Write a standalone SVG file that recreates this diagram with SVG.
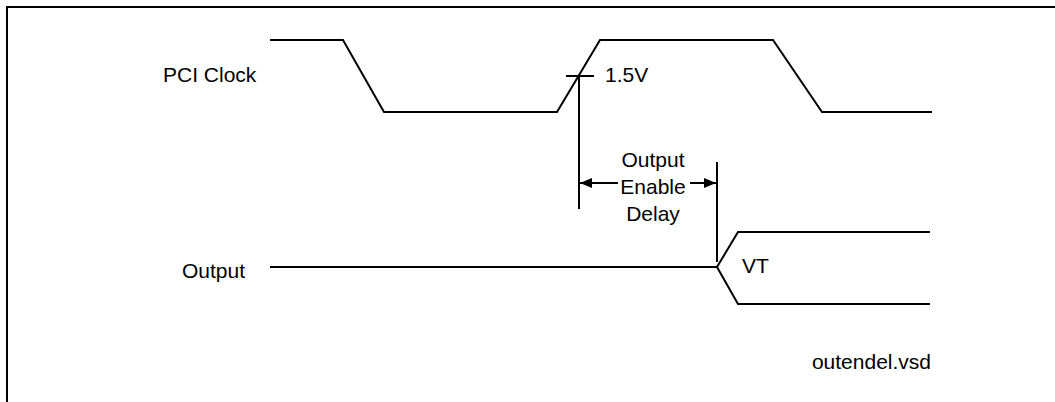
<svg xmlns="http://www.w3.org/2000/svg" width="1055" height="402" viewBox="0 0 1055 402">
<style>
.w{fill:none;stroke:#000;stroke-width:2;stroke-linejoin:miter}
.t{font-family:"Liberation Sans",Arial,sans-serif;font-size:21px;fill:#000}
</style>
<defs>
<marker id="ah" markerWidth="12" markerHeight="10" refX="12" refY="5" orient="auto" markerUnits="userSpaceOnUse">
<path d="M0,0 L12,5 L0,10 Z" fill="#000"/>
</marker>
</defs>
<rect width="1055" height="402" fill="#fff"/>
<path class="w" d="M7,402 V7 H1055" stroke-width="2.5"/>
<g id="pci-clock">
<path class="w" d="M270,40 H343 L384,112 H557 L600,40 H773 L822,112 H932"/>
<text class="t" x="163" y="82">PCI Clock</text>
</g>
<g id="tick-1-5v">
<path class="w" d="M566,76 H594"/>
<text class="t" x="605" y="82">1.5V</text>
</g>
<g id="output-signal">
<path class="w" d="M270,267 H717 L738,232 H930 M717,267 L738,304 H930"/>
<text class="t" x="182" y="278">Output</text>
<text class="t" x="742" y="273">VT</text>
</g>
<g id="delay-label">
<text class="t" x="653" y="167" text-anchor="middle">Output</text>
<text class="t" x="653" y="194" text-anchor="middle">Enable</text>
<text class="t" x="653" y="221" text-anchor="middle">Delay</text>
</g>
<g id="connectors">
<path class="w" d="M579,76 V209"/>
<path class="w" d="M717,162 V262"/>
<path class="w" d="M618,183 H580" marker-end="url(#ah)"/>
<path class="w" d="M690,183 H716" marker-end="url(#ah)"/>
</g>
<text class="t" x="931" y="369" text-anchor="end">outendel.vsd</text>
</svg>
